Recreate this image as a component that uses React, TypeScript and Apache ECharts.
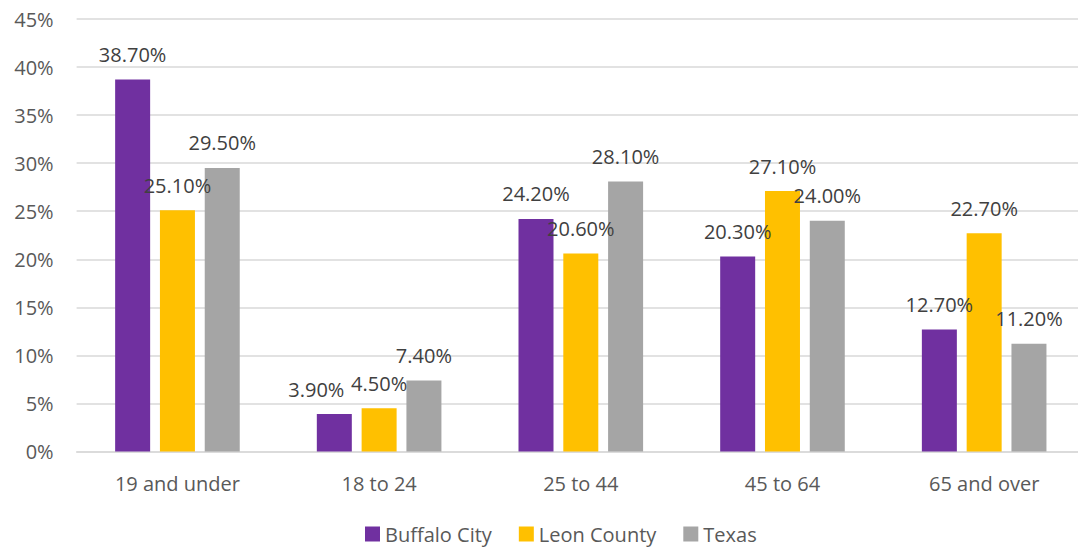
import React, { useEffect, useRef } from "react";
import * as echarts from "echarts";

const categories = ["19 and under", "18 to 24", "25 to 44", "45 to 64", "65 and over"];
const buffaloCity = [38.7, 3.9, 24.2, 20.3, 12.7];
const leonCounty = [25.1, 4.5, 20.6, 27.1, 22.7];
const texas = [29.5, 7.4, 28.1, 24.0, 11.2];
const seriesNames = ["Buffalo City", "Leon County", "Texas"];
const colors = ["#7030A0", "#FFC000", "#A5A5A5"];

const FONT = "'Open Sans', 'Liberation Sans', sans-serif";

// label nudges (Excel shifted an overlapping label)
const labelShift: Record<string, Record<number, number>> = {
  "Buffalo City": { 1: -18 },
};

export default function App() {
  const ref = useRef<HTMLDivElement>(null);
  useEffect(() => {
    if (!ref.current) return;
    const chart = echarts.init(ref.current, undefined, { renderer: "svg" });
    const mk = (name: string, data: number[], color: string) => ({
      name,
      type: "bar",
      data: data.map((v, i) => {
        const dx = labelShift[name] && labelShift[name][i];
        return dx ? { value: v, label: { offset: [dx, 0] } } : v;
      }),
      barWidth: 35,
      barGap: "28%",
      itemStyle: { color },
      label: {
        show: true,
        position: "top",
        distance: 15,
        formatter: (p: any) => Number(p.value).toFixed(2) + "%",
        color: "#404040",
        fontSize: 20,
        fontFamily: FONT,
      },
    });
    chart.setOption({
      animation: false,
      grid: {
        left: 76.6,
        width: 1008.4,
        top: 19,
        bottom: 95.5,
        containLabel: false,
        outerBoundsMode: "none",
      },
      legend: {
        left: 360,
        top: 519,
        itemWidth: 15,
        itemHeight: 15,
        itemGap: 27,
        icon: "rect",
        textStyle: { color: "#595959", fontSize: 20, fontFamily: FONT },
        data: seriesNames,
      },
      xAxis: {
        type: "category",
        data: categories,
        axisLine: { show: true, lineStyle: { color: "#d9d9d9", width: 1.5 } },
        axisTick: { show: false },
        axisLabel: { color: "#595959", fontSize: 20, fontFamily: FONT, margin: 22 },
      },
      yAxis: {
        type: "value",
        min: 0,
        max: 45,
        interval: 5,
        axisLine: { show: false },
        axisTick: { show: false },
        splitLine: { lineStyle: { color: "#d9d9d9", width: 1.5 } },
        axisLabel: {
          color: "#595959",
          fontSize: 20,
          fontFamily: FONT,
          margin: 23,
          formatter: "{value}%",
        },
      },
      series: [
        mk(seriesNames[0], buffaloCity, colors[0]),
        mk(seriesNames[1], leonCounty, colors[1]),
        mk(seriesNames[2], texas, colors[2]),
      ],
    });
    return () => chart.dispose();
  }, []);
  return (
    <div
      ref={ref}
      style={{ position: "fixed", left: 0, top: 0, width: 1078, height: 547, background: "#fff" }}
    />
  );
}
